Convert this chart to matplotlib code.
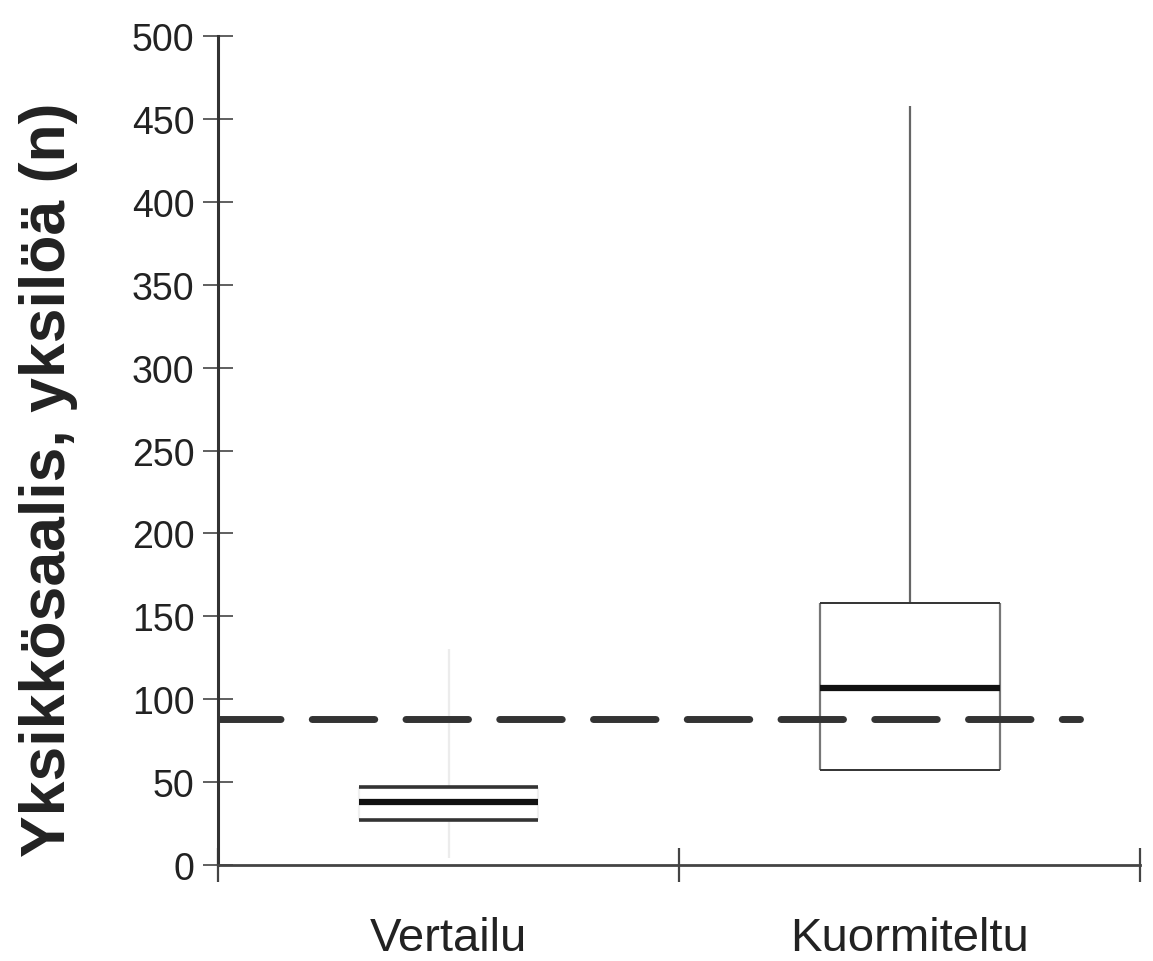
import matplotlib
matplotlib.use("Agg")
import matplotlib.pyplot as plt

categories = ["Vertailu", "Kuormiteltu"]
q1 = [27, 57]
median = [38, 107]
q3 = [47, 158]
whisker_low = [4, 57]
whisker_high = [130, 458]
reference_level = 88
y_ticks = [0, 50, 100, 150, 200, 250, 300, 350, 400, 450, 500]
y_label = "Yksikkösaalis, yksilöä (n)"

plt.rcParams['font.family'] = ['Liberation Sans', 'DejaVu Sans']

fig = plt.figure(figsize=(11.53, 9.62), dpi=100)
ax = fig.add_axes([0.189, 0.0998, 0.800, 0.8617])

positions = list(range(len(categories)))
half = 0.195
side_colors = ["#f0f0f0", "#777777"]
whisk_colors = ["#ececec", "#666666"]
edge_lw = [2.6, 1.4]
for i, p in enumerate(positions):
    ax.vlines(p, q3[i], whisker_high[i], color=whisk_colors[i], lw=1.6, zorder=1)
    ax.vlines(p, whisker_low[i], q1[i], color=whisk_colors[i], lw=1.6, zorder=1)
    ax.vlines([p - half, p + half], q1[i], q3[i], color=side_colors[i], lw=1.6, zorder=2)
    ax.hlines([q1[i], q3[i]], p - half, p + half, color="#333333", lw=edge_lw[i], zorder=3)
    ax.hlines(median[i], p - half, p + half, color="#111111", lw=4.5, zorder=4)

ax.plot([-0.5, 1.37], [reference_level, reference_level], color="#333333",
        lw=5, dashes=(9, 4.5), dash_capstyle='round', zorder=5)

ax.set_xlim(-0.5, 1.5)
ax.set_ylim(0, 500)
ax.set_yticks(y_ticks)
ax.set_xticks([-0.5, 0.5, 1.5])
ax.set_xticklabels([])
ax.set_xticks(positions, minor=True)
ax.set_xticklabels(categories, minor=True, fontsize=34, color="#222222")
ax.tick_params(axis='x', which='minor', length=0, pad=37)
ax.tick_params(axis='x', which='major', direction='inout', length=24, width=1.6, color="#444444")
ax.tick_params(axis='y', direction='inout', length=22, width=1.2, color="#444444",
               labelsize=27, labelcolor="#222222", pad=6)
for s in ['top', 'right']:
    ax.spines[s].set_visible(False)
ax.spines['left'].set_linewidth(2.2)
ax.spines['left'].set_color("#333333")
ax.spines['bottom'].set_linewidth(2.0)
ax.spines['bottom'].set_color("#444444")
ax.set_ylabel(y_label, fontsize=45, fontweight='bold', color="#222222")
ax.yaxis.set_label_coords(-0.152, 0.466)

fig.savefig("out.png", dpi=100)
